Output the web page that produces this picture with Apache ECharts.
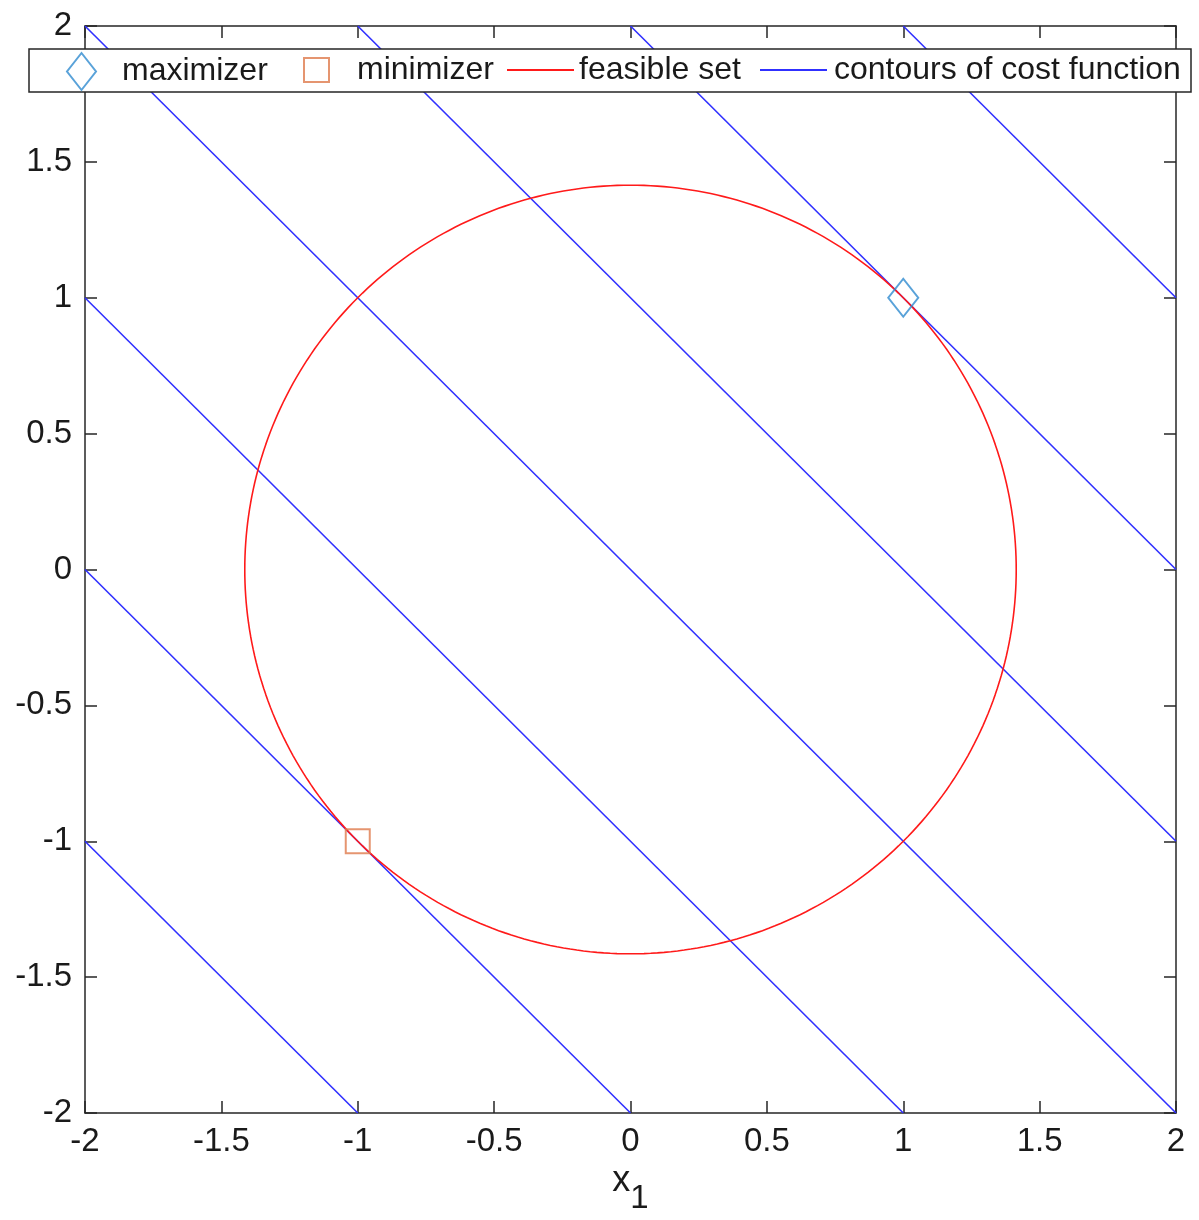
<!DOCTYPE html>
<html>
<head>
<meta charset="utf-8">
<script src="https://cdn.jsdelivr.net/npm/echarts@6/dist/echarts.min.js"></script>
<style>
  html, body { margin: 0; padding: 0; background: #fff; }
  #chart { width: 1199px; height: 1220px; }
</style>
</head>
<body>
<div id="chart"></div>
<script>
// axis range and ticks
const axisMin = -2;
const axisMax = 2;
const tickStep = 0.5;

// cost function f(x) = x1 + x2, contour levels shown
const contourLevels = [-3, -2, -1, 0, 1, 2, 3];
// feasible set: x1^2 + x2^2 = 2
const feasibleRadius = Math.SQRT2;
const maximizerPoint = [[1, 1]];
const minimizerPoint = [[-1, -1]];

const textColor = '#1a1a1a';
const axisColor = '#262626';
const fontFamily = "'Liberation Sans', Arial, Helvetica, sans-serif";

// circle points
const circleData = [];
for (let i = 0; i <= 360; i++) {
  const t = i * Math.PI / 180;
  circleData.push([feasibleRadius * Math.cos(t), feasibleRadius * Math.sin(t)]);
}

// one segment per contour level, clipped to the axes box
const contourSeries = contourLevels.map(function (c) {
  const xa = Math.max(axisMin, c - axisMax);
  const xb = Math.min(axisMax, c - axisMin);
  return {
    name: 'contours of cost function',
    type: 'line',
    data: [[xa, c - xa], [xb, c - xb]],
    showSymbol: false,
    symbol: 'none',
    lineStyle: { color: '#3030ff', width: 1.6 },
    itemStyle: { color: '#3030ff' },
    z: 2
  };
});

const chart = echarts.init(document.getElementById('chart'));

function legendBox(name, left, top, w, h, pad, hideSymbol) {
  const lg = {
    data: [name],
    orient: 'horizontal',
    left: left,
    top: top,
    padding: 0,
    itemWidth: w,
    itemHeight: h,
    symbolKeepAspect: false,
    selectedMode: false,
    z: 20,
    textStyle: {
      fontSize: 32,
      lineHeight: 34,
      color: textColor,
      fontFamily: fontFamily,
      padding: [0, 0, 0, pad]
    }
  };
  if (hideSymbol) {
    lg.itemStyle = { color: 'rgba(0,0,0,0)', borderColor: 'rgba(0,0,0,0)', borderWidth: 0 };
  }
  return lg;
}

function makeAxis(pos, showLabel) {
  return {
    type: 'value',
    min: axisMin, max: axisMax, interval: tickStep,
    position: pos,
    axisLine: { show: true, onZero: false, lineStyle: { color: axisColor, width: 1.5 } },
    axisTick: { show: true, inside: true, length: 12, lineStyle: { color: axisColor, width: 1.5 } },
    axisLabel: { show: showLabel, fontSize: 33, color: textColor, fontFamily: fontFamily, margin: 12 },
    splitLine: { show: false }
  };
}

const xBottom = makeAxis('bottom', true);
xBottom.name = '{x|x}{s|1}';
xBottom.nameLocation = 'middle';
xBottom.nameGap = 50;
xBottom.nameTextStyle = {
  color: textColor,
  fontFamily: fontFamily,
  rich: {
    x: { fontSize: 36, fontFamily: fontFamily, color: textColor, lineHeight: 36, verticalAlign: 'top' },
    s: { fontSize: 33, fontFamily: fontFamily, color: textColor, lineHeight: 52, verticalAlign: 'bottom' }
  }
};

const yLeft = makeAxis('left', true);
yLeft.axisLabel.margin = 13;

const option = {
  animation: false,
  backgroundColor: '#fff',
  grid: { left: 85, right: 23, top: 26, bottom: 103, containLabel: false },
  xAxis: [xBottom, makeAxis('top', false)],
  yAxis: [yLeft, makeAxis('right', false)],
  graphic: [
    {
      type: 'rect',
      z: 15,
      shape: { x: 29, y: 49, width: 1162, height: 43 },
      style: { fill: '#fff', stroke: axisColor, lineWidth: 1.5 }
    }
  ],
  legend: [
    legendBox('maximizer', 66, 52, 29, 37, 21, false),
    legendBox('minimizer', 303, 53, 25, 24, 23, false),
    legendBox('feasible set', 506, 53, 67, 14, 0, true),
    legendBox('contours of cost function', 759, 53, 67, 14, 2, true)
  ],
  series: contourSeries.concat([
    {
      name: 'feasible set',
      type: 'line',
      data: circleData,
      showSymbol: false,
      symbol: 'none',
      smooth: false,
      lineStyle: { color: '#ff1a1a', width: 1.6 },
      itemStyle: { color: '#ff1a1a' },
      z: 3
    },
    {
      name: 'maximizer',
      type: 'scatter',
      data: maximizerPoint,
      symbol: 'diamond',
      symbolSize: [30, 38],
      itemStyle: { color: 'rgba(0,0,0,0)', borderColor: '#2f8bcf', borderWidth: 2 },
      z: 5
    },
    {
      name: 'minimizer',
      type: 'scatter',
      data: minimizerPoint,
      symbol: 'rect',
      symbolSize: [24, 24],
      itemStyle: { color: 'rgba(0,0,0,0)', borderColor: '#df7a4c', borderWidth: 2 },
      z: 5
    }
  ])
};

chart.setOption(option);
</script>
</body>
</html>
